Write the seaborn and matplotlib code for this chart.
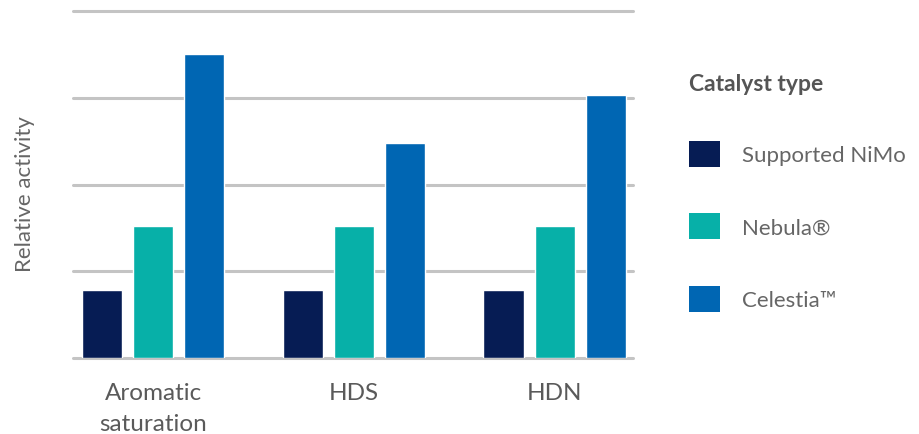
import numpy as np
import pandas as pd
import matplotlib
matplotlib.use("Agg")
import matplotlib.pyplot as plt
import matplotlib.patches as mpatches
import seaborn as sns

# Chart values
processes = ["Aromatic\nsaturation", "HDS", "HDN"]
catalysts = ["Supported NiMo", "Nebula®", "Celestia™"]
nimo = [0.78, 0.78, 0.78]
nebula = [1.52, 1.52, 1.52]
celestia = [3.50, 2.48, 3.03]
colors = ["#061c54", "#07b0a8", "#0066b3"]

df = pd.DataFrame({
    "process": processes * 3,
    "catalyst": [c for c in catalysts for _ in processes],
    "activity": nimo + nebula + celestia,
})

sns.set_style("white")
plt.rcParams["font.family"] = ["Lato", "DejaVu Sans"]

fig = plt.figure(figsize=(9.2, 4.35), dpi=100)
ax = fig.add_axes([0.0793, 0.1747, 0.6087, 0.7977])

sns.barplot(data=df, x="process", y="activity", hue="catalyst",
            palette=colors, width=0.765, gap=0.216, saturation=1,
            legend=False, ax=ax, zorder=3)

ax.set_xlim(-0.4, 2.39)
ax.set_ylim(0, 4)
ax.set_yticks([0, 1, 2, 3, 4])
ax.set_yticklabels([])
ax.yaxis.grid(True, color="#c4c4c4", linewidth=2.2, zorder=0)
ax.set_axisbelow(True)
for s in ax.spines.values():
    s.set_visible(False)
ax.tick_params(axis="both", length=0)
ax.tick_params(axis="x", labelsize=17.5, labelcolor="#5a5a5a", pad=17)
for lab in ax.get_xticklabels():
    lab.set_linespacing(1.6)
ax.set_xlabel("")
ax.set_ylabel("Relative activity", fontsize=16, color="#666666")
ax.yaxis.set_label_coords(-0.067, 0.475)
for gl in ax.get_ygridlines():
    gl.set_clip_on(False)

handles = [mpatches.Patch(facecolor=c, edgecolor="none", label=l)
           for c, l in zip(colors, catalysts)]
leg = fig.legend(handles=handles, title="Catalyst type", loc="upper left",
                 bbox_to_anchor=(0.749, 0.83), frameon=False,
                 fontsize=16, title_fontsize=16.5,
                 handlelength=1.4, handleheight=1.4, labelspacing=2.11,
                 handletextpad=1.0, borderaxespad=0, borderpad=0)
leg.get_title().set_fontweight("bold")
leg.get_title().set_color("#555555")
leg._legend_box.align = "left"
for t in leg.get_texts():
    t.set_color("#666666")

fig.savefig("out.png", dpi=100)
